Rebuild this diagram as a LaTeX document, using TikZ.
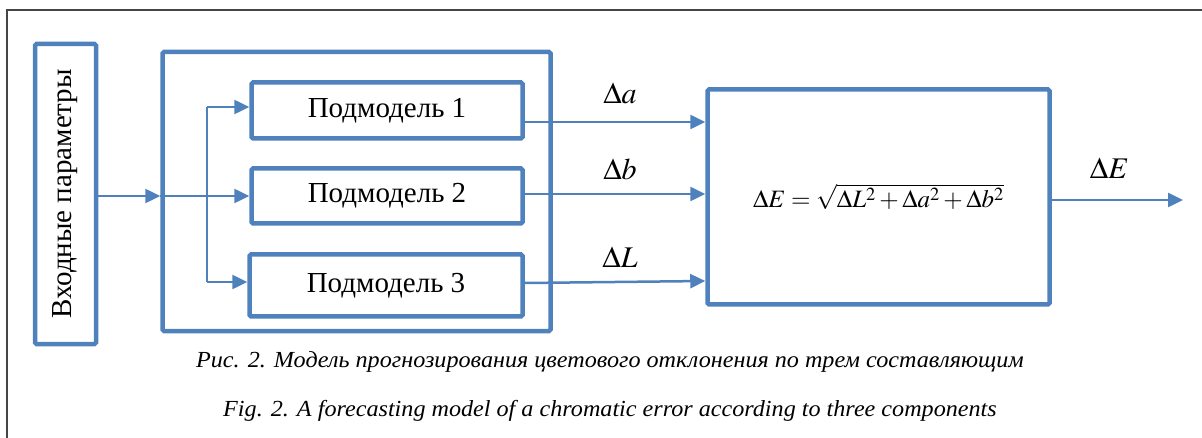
\documentclass[tikz,border=0pt]{standalone}
\usepackage{mathptmx}
\usepackage{fontspec}
\setmainfont{Liberation Serif}
\usetikzlibrary{arrows.meta,positioning}
\definecolor{modelblue}{RGB}{79,129,189}
\definecolor{framegray}{RGB}{70,70,70}

\begin{document}
\begin{tikzpicture}[x=1pt, y=-1pt,
    box/.style={draw=modelblue, line width=4.5pt, rounded corners=1.5pt, inner sep=0pt, font=\fontsize{29}{32}\selectfont},
    arr/.style={draw=modelblue, line width=2.5pt, -{Triangle[length=15pt,width=14pt]}},
    lbl/.style={font=\fontsize{30}{34}\selectfont},
    captext/.style={font=\fontsize{23}{26}\selectfont\itshape}
]
\useasboundingbox (0,0) rectangle (1202,438);
% frame
\draw[framegray, line width=1.5pt] (7,438) -- (7,10) -- (1202,10);

\node[box, minimum width=61pt, minimum height=300pt] (inp) at (65.5,194) {};
\node[font=\fontsize{29}{32}\selectfont, rotate=90] at (inp.center) {Входные параметры};
\node[box, minimum width=388pt, minimum height=279pt] (model) at (356.5,191.5) {};
\node[box, minimum width=271pt, minimum height=56pt] (sub1) at (387,110.5) {Подмодель 1};
\node[box, minimum width=271pt, minimum height=55pt] (sub2) at (387,196) {Подмодель 2};
\node[box, minimum width=273pt, minimum height=62pt] (sub3) at (386,285.5) {Подмодель 3};
\node[box, minimum width=342pt, minimum height=215pt] (calc) at (878.5,197)
    {\fontsize{25}{28}\selectfont $\Delta E = \sqrt{\Delta L^{2} + \Delta a^{2} + \Delta b^{2}}$};

% input branch
\coordinate (bustop) at (207,107);
\coordinate (busbot) at (207,282);
\draw[arr] (inp.east |- 0,196) -- (model.west |- 0,196);
\draw[arr] (model.west |- 0,196) -- (sub2.west |- 0,196);
\draw[arr, -] (bustop) -- (busbot);
\draw[arr] (bustop) -- (bustop -| sub1.west);
\draw[arr] (busbot) -- (busbot -| sub3.west);

% outputs
\draw[arr] (sub1.east |- 0,122) -- node[lbl, above=14pt, xshift=5pt] {$\Delta a$} (calc.west |- 0,122);
\draw[arr] (sub2.east |- 0,194) -- node[lbl, above=10pt, xshift=5pt] {$\Delta b$} (calc.west |- 0,194);
\draw[arr] (sub3.east |- 0,283) -- node[lbl, above=10pt, xshift=5pt] {$\Delta L$} (calc.west |- 0,281);
\draw[arr] (calc.east |- 0,200) -- node[lbl, above=17pt, xshift=-8pt] {$\Delta E$} (1183,200);

% captions
\node[captext] (capru) at (610,362) {\scalebox{1.05}[1]{Рис. 2. Модель прогнозирования цветового отклонения по трем составляющим}};
\node[captext] (capen) at (610,411) {\scalebox{1.05}[1]{Fig. 2. A forecasting model of a chromatic error according to three components}};
\end{tikzpicture}
\end{document}
